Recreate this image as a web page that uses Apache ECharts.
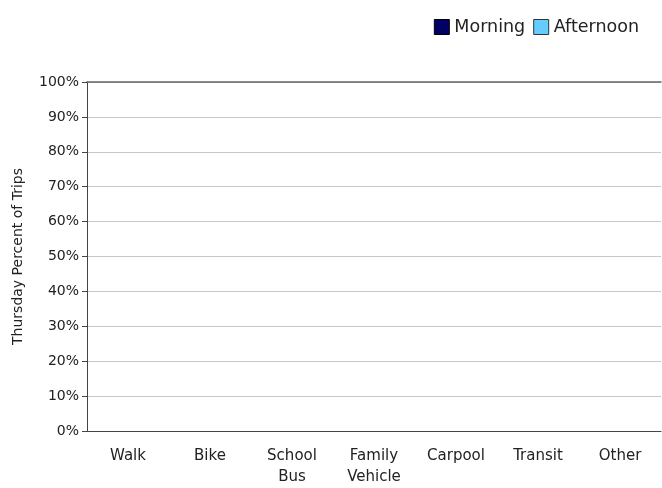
<!DOCTYPE html>
<html>
<head>
<meta charset="utf-8">
<script src="https://cdn.jsdelivr.net/npm/echarts@6/dist/echarts.min.js"></script>
<style>html,body{margin:0;padding:0;background:#fff;}#c{width:662px;height:488px;}</style>
</head>
<body>
<div id="c"></div>
<script>
var categories = ['Walk', 'Bike', 'School\nBus', 'Family\nVehicle', 'Carpool', 'Transit', 'Other'];
var morning = [0, 0, 0, 0, 0, 0, 0];
var afternoon = [0, 0, 0, 0, 0, 0, 0];
var yTicks = [0, 10, 20, 30, 40, 50, 60, 70, 80, 90, 100];

var chart = echarts.init(document.getElementById('c'), null, {renderer: 'canvas'});
var font = 'DejaVu Sans, Verdana, sans-serif';
chart.setOption({
  animation: false,
  backgroundColor: '#fff',
  textStyle: {fontFamily: font},
  legend: {
    right: 18, top: 13,
    itemWidth: 15, itemHeight: 15, itemGap: 8,
    icon: 'rect',
    textStyle: {fontSize: 17.5, color: '#222', fontFamily: font},
    data: [
      {name: 'Morning', itemStyle: {color: '#000066', borderColor: '#000', borderWidth: 1}},
      {name: 'Afternoon', itemStyle: {color: '#66ccff', borderColor: '#333', borderWidth: 1}}
    ]
  },
  grid: {left: 87, right: 1, top: 82, bottom: 56, containLabel: false},
  xAxis: [{
    type: 'category', data: categories,
    axisLine: {lineStyle: {color: '#444', width: 1}},
    axisTick: {alignWithLabel: true, length: 5, lineStyle: {color: '#444'}},
    axisLabel: {fontSize: 15, color: '#222', margin: 15, lineHeight: 21, fontFamily: font}
  }, {
    type: 'category', data: categories, position: 'top',
    axisLine: {show: true, lineStyle: {color: '#666', width: 1.5}},
    axisTick: {show: false}, axisLabel: {show: false}
  }],
  yAxis: {
    type: 'value', min: 0, max: 100, interval: 10,
    name: 'Thursday Percent of Trips', nameLocation: 'middle', nameGap: 62, nameRotate: 90,
    nameTextStyle: {fontSize: 14, color: '#222', fontFamily: font},
    axisLine: {show: true, lineStyle: {color: '#444', width: 1}},
    axisTick: {show: true, length: 5, lineStyle: {color: '#444'}},
    axisLabel: {fontSize: 14, color: '#222', margin: 8, formatter: function (v) { return yTicks.indexOf(v) >= 0 ? v + '%' : ''; }, fontFamily: font},
    splitLine: {lineStyle: {color: '#c8c8c8', width: 1}}
  },
  series: [
    {name: 'Morning', type: 'bar', data: morning, itemStyle: {color: '#000066', borderWidth: 0}},
    {name: 'Afternoon', type: 'bar', data: afternoon, itemStyle: {color: '#66ccff', borderWidth: 0}}
  ]
});
</script>
</body>
</html>
